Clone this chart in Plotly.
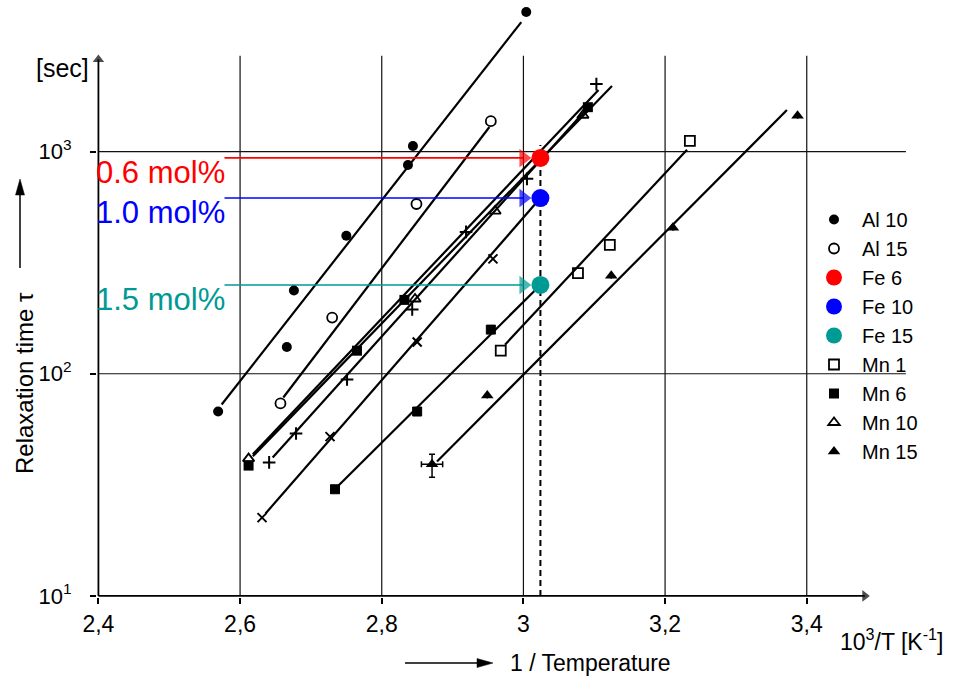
import numpy as np
import plotly.graph_objects as go

# ---------------- data ----------------
al10_x = [2.569, 2.666, 2.676, 2.750, 2.837, 2.844, 3.004]
al10_tau = [67.6, 132, 237, 418, 871, 1060, 4250]
al15_x = [2.657, 2.730, 2.849, 2.954]
al15_tau = [73.5, 179, 581, 1371]
mn1_x = [2.968, 3.077, 3.122, 3.235]
mn1_tau = [127, 284, 380, 1117]
mn6_x = [2.612, 2.765, 2.832, 3.091]
mn6_tau = [38.6, 127, 215, 1585]
mn10_x = [2.612, 2.847, 2.960, 3.084]
mn10_tau = [41.5, 217, 540, 1458]
mn15_x = [2.871, 2.949, 3.124, 3.211, 3.387]
mn15_tau = [39.1, 79.8, 276, 454, 1449]
mn15_xerr = [0.015, 0, 0, 0, 0]
mn15_tau_err_plus = [4.3, 0, 0, 0, 0]
mn15_tau_err_minus = [4.9, 0, 0, 0, 0]

fe6_raw_x = [2.641, 2.679, 2.751, 2.843, 2.919, 3.005, 3.103]
fe6_raw_tau = [39.9, 53.8, 94.2, 194.5, 435, 754, 2013]
fe10_raw_x = [2.631, 2.727, 2.850, 2.957]
fe10_raw_tau = [22.5, 52.1, 139, 329]
fe15_raw_x = [2.734, 2.850, 2.954]
fe15_raw_tau = [30.2, 67.6, 158]

fe_names = ["Fe 6", "Fe 10", "Fe 15"]
fe_labels = ["0.6 mol%", "1.0 mol%", "1.5 mol%"]
fe_x = [3.024, 3.024, 3.024]
fe_tau = [937, 618, 251]
fe_colors = ["#ff0000", "#0000ff", "#009a94"]

# fitted straight lines (end points)
fit_lines = {
    "Al 10": ([2.574, 2.997], [72.7, 3830]),
    "Al 15": ([2.661, 2.952], [78.2, 1291]),
    "Mn 6": ([2.618, 3.125], [42.5, 1972]),
    "Mn 10": ([2.618, 3.106], [43.4, 1892]),
    "Fe 6": ([2.646, 3.088], [42.0, 1538]),
    "Fe 10": ([2.636, 3.024], [23.5, 618]),
    "Fe 15": ([2.739, 3.024], [31.4, 251]),
    "Mn 1": ([2.974, 3.231], [135.2, 1019]),
    "Mn 15": ([2.878, 3.372], [40.3, 1538]),
}

x_ticks = [2.4, 2.6, 2.8, 3.0, 3.2, 3.4]
x_ticktext = ["2,4", "2,6", "2,8", "3", "3,2", "3,4"]
y_ticks = [10, 100, 1000]
y_ticktext = ["10<sup>1</sup>", "10<sup>2</sup>", "10<sup>3</sup>"]

# ---------------- layout constants ----------------
FONT = "Liberation Sans"
X_RANGE = [2.398, 3.55]
Y_RANGE_LOG = [0.995, 3.66]
GRID_TOP = 2700
Y_ARROW_END = 2600
HGRID_RIGHT = 3.54
X_ARROW_END = 3.482
ARROW_START = 2.578
ML, MR, MT, MB = 97, 42, 5, 79
W, H = 955, 676
PW, PH = W - ML - MR, H - MT - MB


def pxx(px):
    return (px - ML) / PW


def pyy(py):
    return (H - MB - py) / PH


fig = go.Figure()

# grid lines
for xv in x_ticks[1:]:
    fig.add_trace(go.Scatter(x=[xv, xv], y=[10, GRID_TOP], mode="lines",
                             line=dict(color="#111", width=1.2),
                             showlegend=False, hoverinfo="skip"))
for yv in y_ticks[1:]:
    fig.add_trace(go.Scatter(x=[2.4, HGRID_RIGHT], y=[yv, yv], mode="lines",
                             line=dict(color="#111", width=1.2),
                             showlegend=False, hoverinfo="skip"))

# axis lines with arrow heads
fig.add_trace(go.Scatter(x=[2.4, 2.4], y=[10, Y_ARROW_END], mode="lines+markers",
                         line=dict(color="black", width=1.8),
                         marker=dict(symbol="triangle-up", size=[0, 10], color="black",
                                     line=dict(width=0)),
                         showlegend=False, hoverinfo="skip", cliponaxis=False))
fig.add_trace(go.Scatter(x=[2.4, X_ARROW_END], y=[10, 10], mode="lines+markers",
                         line=dict(color="black", width=1.8),
                         marker=dict(symbol="triangle-right", size=[0, 10], color="black",
                                     line=dict(width=0)),
                         showlegend=False, hoverinfo="skip", cliponaxis=False))

# dashed vertical line at Fe position
fig.add_trace(go.Scatter(x=[fe_x[0], fe_x[0]], y=[10, 1072], mode="lines",
                         line=dict(color="black", width=2, dash="6px,4px"),
                         showlegend=False, hoverinfo="skip"))

# fit lines
for name, (fx, ft) in fit_lines.items():
    fig.add_trace(go.Scatter(x=fx, y=ft, mode="lines",
                             line=dict(color="black", width=2.2),
                             showlegend=False, hoverinfo="skip"))

# coloured arrows pointing at the Fe points
for xx, tt, c in zip(fe_x, fe_tau, fe_colors):
    fig.add_trace(go.Scatter(x=[ARROW_START, xx - 0.024], y=[tt, tt], mode="lines+markers",
                             line=dict(color=c, width=1.6),
                             marker=dict(symbol="triangle-right", size=[0, 16], color=c,
                                         line=dict(width=0)),
                             showlegend=False, hoverinfo="skip"))

# original Fe measurement symbols (no legend entry)
fig.add_trace(go.Scatter(x=fe6_raw_x, y=fe6_raw_tau, mode="markers",
                         marker=dict(symbol="cross-thin", size=9, color="black",
                                     line=dict(color="black", width=2)),
                         showlegend=False))
fig.add_trace(go.Scatter(x=fe10_raw_x, y=fe10_raw_tau, mode="markers",
                         marker=dict(symbol="x-thin", size=9, color="black",
                                     line=dict(color="black", width=2)),
                         showlegend=False))
fig.add_trace(go.Scatter(x=fe15_raw_x, y=fe15_raw_tau, mode="markers",
                         marker=dict(symbol="square-x", size=9, color="black",
                                     line=dict(color="black", width=1)),
                         showlegend=False))

# legend series
fig.add_trace(go.Scatter(x=al10_x, y=al10_tau, mode="markers", name="Al 10",
                         marker=dict(symbol="circle", size=10, color="black")))
fig.add_trace(go.Scatter(x=al15_x, y=al15_tau, mode="markers", name="Al 15",
                         marker=dict(symbol="circle-open", size=10, color="black",
                                     line=dict(width=1.8))))
for n, xx, tt, c in zip(fe_names, fe_x, fe_tau, fe_colors):
    fig.add_trace(go.Scatter(x=[xx], y=[tt], mode="markers", name=n,
                             marker=dict(symbol="circle", size=18, color=c)))
fig.add_trace(go.Scatter(x=mn1_x, y=mn1_tau, mode="markers", name="Mn 1",
                         marker=dict(symbol="square-open", size=10, color="black",
                                     line=dict(width=1.8))))
fig.add_trace(go.Scatter(x=mn6_x, y=mn6_tau, mode="markers", name="Mn 6",
                         marker=dict(symbol="square", size=10, color="black")))
fig.add_trace(go.Scatter(x=mn10_x, y=mn10_tau, mode="markers", name="Mn 10",
                         marker=dict(symbol="triangle-up-open", size=10, color="black",
                                     line=dict(width=1.8))))
fig.add_trace(go.Scatter(x=mn15_x, y=mn15_tau, mode="markers", name="Mn 15",
                         marker=dict(symbol="triangle-up", size=11, color="black"),
                         error_x=dict(type="data", array=mn15_xerr, color="black",
                                      thickness=1.5, width=3),
                         error_y=dict(type="data", array=mn15_tau_err_plus,
                                      arrayminus=mn15_tau_err_minus, color="black",
                                      thickness=1.5, width=3)))

annotations = []
for lab, tt, c in zip(fe_labels, fe_tau, fe_colors):
    annotations.append(dict(x=pxx(94), y=np.log10(tt), xref="paper", yref="y", text=lab,
                            showarrow=False, xanchor="left", yanchor="top", yshift=5,
                            font=dict(family=FONT, size=31, color=c)))

annotations.append(dict(x=pxx(838), y=pyy(640), xref="paper", yref="paper",
                        text="10<sup>3</sup>/T [K<sup>-1</sup>]", showarrow=False,
                        xanchor="left", yanchor="middle",
                        font=dict(family=FONT, size=23, color="black")))
annotations.append(dict(x=pxx(508), y=pyy(663), xref="paper", yref="paper",
                        text="1 / Temperature", showarrow=False,
                        xanchor="left", yanchor="middle",
                        font=dict(family=FONT, size=23, color="black")))
annotations.append(dict(x=pxx(24), y=pyy(383), xref="paper", yref="paper",
                        text="Relaxation time τ", showarrow=False, textangle=-90,
                        xanchor="center", yanchor="middle",
                        font=dict(family=FONT, size=24, color="black")))
annotations.append(dict(x=pxx(62), y=pyy(68), xref="paper", yref="paper",
                        text="[sec]", showarrow=False, xanchor="center", yanchor="middle",
                        font=dict(family=FONT, size=25, color="black")))

# arrows outside the plotting area (shapes in paper coordinates)
shapes = []
shapes.append(dict(type="line", xref="paper", yref="paper",
                   x0=pxx(405), x1=pxx(480), y0=pyy(663), y1=pyy(663),
                   line=dict(color="black", width=1.5)))
shapes.append(dict(type="path", xref="paper", yref="paper",
                   path=f"M{pxx(493)},{pyy(663)} L{pxx(477)},{pyy(658.5)} "
                        f"L{pxx(477)},{pyy(667.5)} Z",
                   fillcolor="black", line=dict(color="black", width=0.5)))
shapes.append(dict(type="line", xref="paper", yref="paper",
                   x0=pxx(20), x1=pxx(20), y0=pyy(268), y1=pyy(192),
                   line=dict(color="black", width=1.5)))
shapes.append(dict(type="path", xref="paper", yref="paper",
                   path=f"M{pxx(20)},{pyy(179)} L{pxx(15.5)},{pyy(195)} "
                        f"L{pxx(24.5)},{pyy(195)} Z",
                   fillcolor="black", line=dict(color="black", width=0.5)))

fig.update_layout(
    width=W, height=H,
    margin=dict(l=ML, r=MR, t=MT, b=MB),
    paper_bgcolor="white", plot_bgcolor="white",
    font=dict(family=FONT, size=21, color="black"),
    annotations=annotations,
    shapes=shapes,
    legend=dict(x=pxx(806), y=pyy(200), xref="paper", yref="paper",
                xanchor="left", yanchor="top", bgcolor="rgba(0,0,0,0)",
                font=dict(family=FONT, size=20), itemsizing="trace",
                itemwidth=46, tracegroupgap=0),
    showlegend=True,
)
fig.update_xaxes(type="linear", range=X_RANGE, showgrid=False, zeroline=False,
                 showline=False, tickmode="array", tickvals=x_ticks,
                 ticktext=x_ticktext, ticks="outside", ticklen=6, tickwidth=1.5,
                 tickcolor="black", tickfont=dict(family=FONT, size=23))
fig.update_yaxes(type="log", range=Y_RANGE_LOG, showgrid=False, zeroline=False,
                 showline=False, tickmode="array", tickvals=y_ticks,
                 ticktext=y_ticktext, ticks="outside", ticklen=6, tickwidth=1.5,
                 tickcolor="black", ticklabelstandoff=14,
                 tickfont=dict(family=FONT, size=22))

fig.write_html("out.html")
